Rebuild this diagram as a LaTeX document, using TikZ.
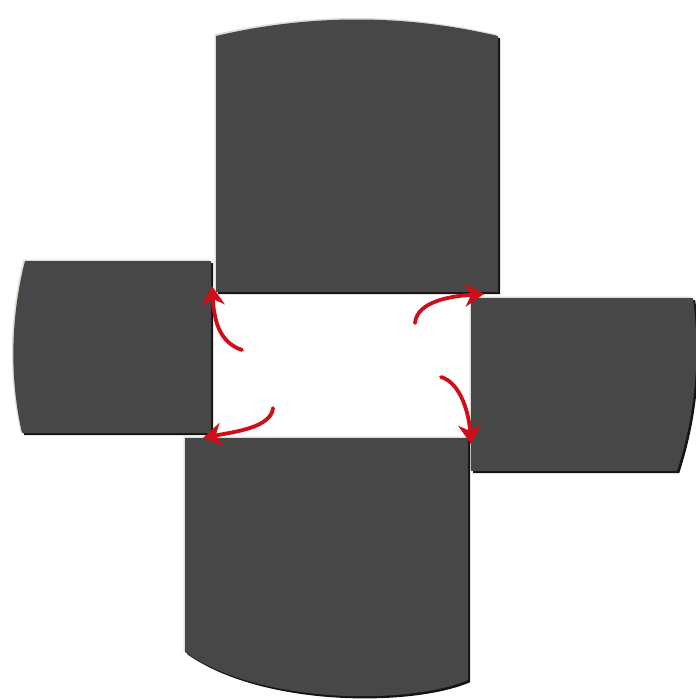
\documentclass[tikz,border=0pt]{standalone}
\usepackage{tikz}
\usetikzlibrary{arrows.meta, calc}

\definecolor{panelgray}{RGB}{70,71,70}
\definecolor{panelrim}{RGB}{222,222,208}
\definecolor{arrowred}{RGB}{208,14,24}

\tikzset{
  rim/.style={fill=panelrim, shift={(-1.5,-1.5)}},
  shade/.style={fill=black!92, shift={(2.2,2.2)}},
  panel/.style={fill=panelgray},
  arrow/.style={draw=arrowred, line width=3.8pt, line cap=round, -{Stealth[length=19pt, width=23pt, inset=6pt]}}
}

% contornos de los cuatro paneles (coordenadas en px, y hacia abajo)
\newcommand{\toppanel}{(216,292) -- (216,36) .. controls (310,14) and (404,14) .. (498,36) -- (498,292) -- cycle}
\newcommand{\leftpanel}{(211,261) -- (25,261) .. controls (10,320) and (10,380) .. (22,433) -- (211,433) -- cycle}
\newcommand{\rightpanel}{(471,298) -- (693,298) .. controls (700,350) and (697,410) .. (677,471) -- (471,471) -- cycle}
\newcommand{\bottompanel}{(185,438) -- (468,438) -- (468,680) .. controls (410,705) and (260,705) .. (185,652) -- cycle}

\begin{document}
\begin{tikzpicture}[x=1pt, y=-1pt]

            \useasboundingbox (0,0) rectangle (696,699);

            % --- Paneles ---
            \foreach \pnl in {\toppanel,\leftpanel,\rightpanel,\bottompanel}{
              \fill[rim] \pnl;
              \fill[shade] \pnl;
              \fill[panel] \pnl;
            }

            % --- Extremos de las flechas ---
            \coordinate (upA) at (242,350);
            \coordinate (upB) at (212,286);
            \coordinate (rightA) at (415,323);
            \coordinate (rightB) at (484,294);
            \coordinate (downA) at (441,377);
            \coordinate (downB) at (471,444);
            \coordinate (leftA) at (273,408);
            \coordinate (leftB) at (203,438);

            % --- Flechas de giro ---
            \draw [arrow] (upA) .. controls +(-24,-8) and +(2,32) .. (upB);
            \draw [arrow] (rightA) .. controls +(2,-22) and +(-32,2) .. (rightB);
            \draw [arrow] (downA) .. controls +(20,6) and +(-2,-30) .. (downB);
            \draw [arrow] (leftA) .. controls +(-2,20) and +(30,-6) .. (leftB);

\end{tikzpicture}
\end{document}
